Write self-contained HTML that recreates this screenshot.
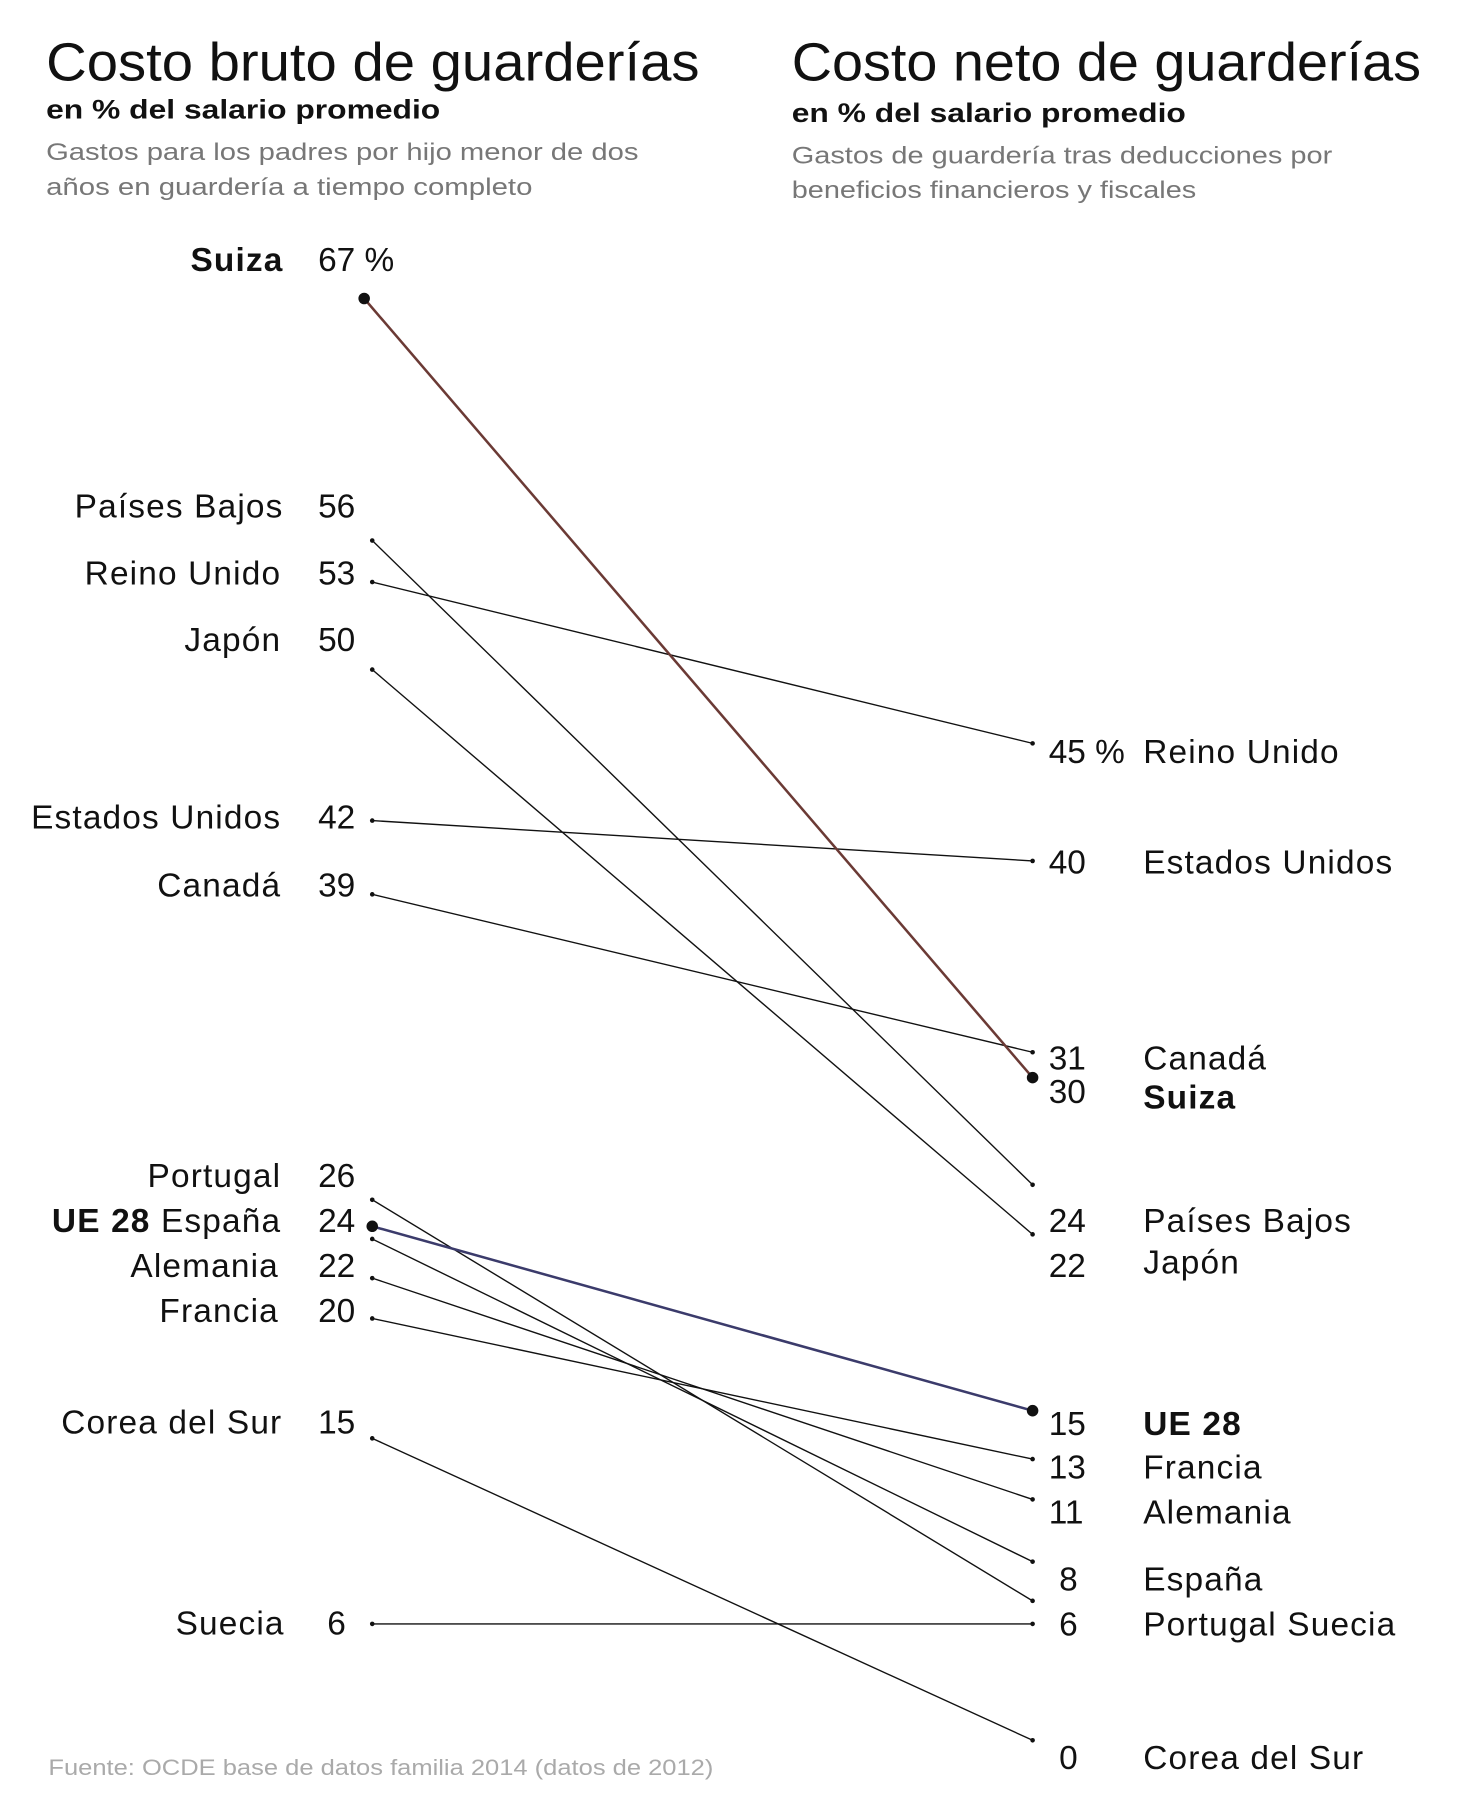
<!DOCTYPE html>
<html><head><meta charset="utf-8"><style>
html,body{margin:0;padding:0;background:#fff;}
svg{display:block;}
text{font-family:"Liberation Sans",sans-serif;}
.t{font-size:47px;font-weight:300;fill:#111;}
.b{font-size:23px;font-weight:bold;fill:#111;}
.g{font-size:21px;fill:#777;}
.l{font-size:29px;fill:#111;letter-spacing:1px;}
.lb{font-size:29px;fill:#111;font-weight:bold;letter-spacing:1px;}
.n{font-size:29px;fill:#111;}
.s{font-size:19px;fill:#aaa;}
</style></head><body>
<svg width="1459" height="1806" viewBox="0 0 1266 1567" preserveAspectRatio="none" xmlns="http://www.w3.org/2000/svg">
<text class="t" x="40" y="70" textLength="567" lengthAdjust="spacingAndGlyphs">Costo bruto de guarderías</text>
<text class="b" x="40" y="103" textLength="342" lengthAdjust="spacingAndGlyphs">en % del salario promedio</text>
<text class="g" x="40" y="139" textLength="514" lengthAdjust="spacingAndGlyphs">Gastos para los padres por hijo menor de dos</text>
<text class="g" x="40" y="169" textLength="422" lengthAdjust="spacingAndGlyphs">años en guardería a tiempo completo</text>
<text class="t" x="687" y="70" textLength="546" lengthAdjust="spacingAndGlyphs">Costo neto de guarderías</text>
<text class="b" x="687" y="106" textLength="342" lengthAdjust="spacingAndGlyphs">en % del salario promedio</text>
<text class="g" x="687" y="142" textLength="469" lengthAdjust="spacingAndGlyphs">Gastos de guardería tras deducciones por</text>
<text class="g" x="687" y="172" textLength="351" lengthAdjust="spacingAndGlyphs">beneficios financieros y fiscales</text>

<g stroke="#111" stroke-width="1.2" fill="none">
<line x1="323" y1="469" x2="896" y2="1028"/>
<line x1="323" y1="505" x2="896" y2="645"/>
<line x1="323" y1="581" x2="896" y2="1071"/>
<line x1="323" y1="712" x2="896" y2="747"/>
<line x1="323" y1="776" x2="896" y2="913"/>
<line x1="323" y1="1041" x2="896" y2="1389"/>
<line x1="323" y1="1075" x2="896" y2="1355"/>
<line x1="323" y1="1109" x2="896" y2="1301"/>
<line x1="323" y1="1144" x2="896" y2="1266"/>
<line x1="323" y1="1248" x2="896" y2="1510"/>
<line x1="323" y1="1409" x2="896" y2="1409"/>
</g>
<line x1="316" y1="259" x2="896" y2="935" stroke="#6b3a35" stroke-width="2.2"/>
<line x1="323" y1="1064" x2="896" y2="1224" stroke="#3b3b6b" stroke-width="2.2"/>
<g fill="#111">
<circle cx="316" cy="259" r="5"/><circle cx="896" cy="935" r="5"/>
<circle cx="323" cy="1064" r="5"/><circle cx="896" cy="1224" r="5"/>
<circle cx="323" cy="469" r="2"/><circle cx="896" cy="1028" r="2"/>
<circle cx="323" cy="505" r="2"/><circle cx="896" cy="645" r="2"/>
<circle cx="323" cy="581" r="2"/><circle cx="896" cy="1071" r="2"/>
<circle cx="323" cy="712" r="2"/><circle cx="896" cy="747" r="2"/>
<circle cx="323" cy="776" r="2"/><circle cx="896" cy="913" r="2"/>
<circle cx="323" cy="1041" r="2"/><circle cx="896" cy="1389" r="2"/>
<circle cx="323" cy="1075" r="2"/><circle cx="896" cy="1355" r="2"/>
<circle cx="323" cy="1109" r="2"/><circle cx="896" cy="1301" r="2"/>
<circle cx="323" cy="1144" r="2"/><circle cx="896" cy="1266" r="2"/>
<circle cx="323" cy="1248" r="2"/><circle cx="896" cy="1510" r="2"/>
<circle cx="323" cy="1409" r="2"/><circle cx="896" cy="1409" r="2"/>
</g>

<g text-anchor="end">
<text class="lb" x="246" y="235">Suiza</text>
<text class="l" x="246" y="449">Países Bajos</text>
<text class="l" x="244" y="507">Reino Unido</text>
<text class="l" x="244" y="565">Japón</text>
<text class="l" x="244" y="719">Estados Unidos</text>
<text class="l" x="244" y="778">Canadá</text>
<text class="l" x="244" y="1030">Portugal</text>
<text class="l" x="244" y="1069"><tspan font-weight="bold">UE 28</tspan> España</text>
<text class="l" x="242" y="1108">Alemania</text>
<text class="l" x="242" y="1147">Francia</text>
<text class="l" x="245" y="1244">Corea del Sur</text>
<text class="l" x="247" y="1418">Suecia</text>
</g>
<g>
<text class="n" x="276" y="235">67 %</text>
<text class="n" x="276" y="449">56</text>
<text class="n" x="276" y="507">53</text>
<text class="n" x="276" y="565">50</text>
<text class="n" x="276" y="719">42</text>
<text class="n" x="276" y="778">39</text>
<text class="n" x="276" y="1030">26</text>
<text class="n" x="276" y="1069">24</text>
<text class="n" x="276" y="1108">22</text>
<text class="n" x="276" y="1147">20</text>
<text class="n" x="276" y="1244">15</text>
<text class="n" x="284" y="1418">6</text>
</g>
<g>
<text class="n" x="910" y="662">45 %</text>
<text class="n" x="910" y="758">40</text>
<text class="n" x="910" y="928">31</text>
<text class="n" x="910" y="957">30</text>
<text class="n" x="910" y="1069">24</text>
<text class="n" x="910" y="1108">22</text>
<text class="n" x="910" y="1245">15</text>
<text class="n" x="910" y="1283">13</text>
<text class="n" x="910" y="1322">11</text>
<text class="n" x="919" y="1380">8</text>
<text class="n" x="919" y="1419">6</text>
<text class="n" x="919" y="1535">0</text>
<text class="l" x="992" y="662">Reino Unido</text>
<text class="l" x="992" y="758">Estados Unidos</text>
<text class="l" x="992" y="928">Canadá</text>
<text class="lb" x="992" y="962">Suiza</text>
<text class="l" x="992" y="1069">Países Bajos</text>
<text class="l" x="992" y="1105">Japón</text>
<text class="lb" x="992" y="1245">UE 28</text>
<text class="l" x="992" y="1283">Francia</text>
<text class="l" x="992" y="1322">Alemania</text>
<text class="l" x="992" y="1380">España</text>
<text class="l" x="992" y="1419">Portugal Suecia</text>
<text class="l" x="992" y="1535">Corea del Sur</text>
</g>
<text class="s" x="42" y="1540" textLength="577" lengthAdjust="spacingAndGlyphs">Fuente: OCDE base de datos familia 2014 (datos de 2012)</text>
</svg>
</body></html>
